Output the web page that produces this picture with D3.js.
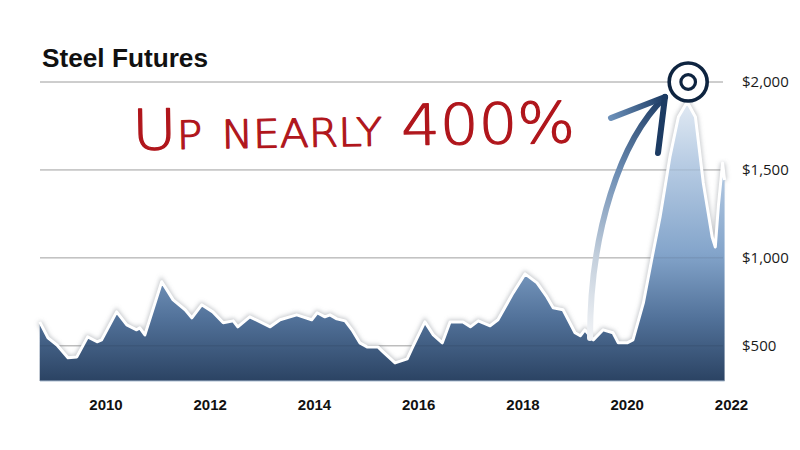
<!DOCTYPE html>
<html>
<head>
<meta charset="utf-8">
<script src="https://cdn.jsdelivr.net/npm/d3@7"></script>
<style>
  html, body { margin: 0; padding: 0; background: #fff; }
  svg { display: block; }
</style>
</head>
<body>
<svg id="chart" width="800" height="450"></svg>
<script>
// ---- data ----
const title = "Steel Futures";
const annotation = "Up nearly 400%";
const dates = [
  "2008-09-27","2008-11-24","2009-01-26","2009-04-13","2009-06-14","2009-08-29","2009-11-03","2009-12-05",
  "2010-03-20","2010-05-30","2010-08-07","2010-08-29","2010-10-04","2011-01-30","2011-04-20","2011-07-13",
  "2011-08-29","2011-11-06","2012-01-23","2012-04-05","2012-06-14","2012-07-16","2012-10-08","2012-12-20",
  "2013-02-28","2013-05-08","2013-09-02","2013-12-16","2014-01-23","2014-03-18","2014-04-23","2014-06-10",
  "2014-08-07","2014-09-24","2014-11-18","2015-01-08","2015-03-25","2015-04-30","2015-07-23","2015-10-16",
  "2015-11-24","2016-02-17","2016-04-16","2016-06-18","2016-08-11","2016-11-10","2017-01-01","2017-02-25",
  "2017-05-19","2017-07-13","2017-10-27","2018-01-19","2018-04-13","2018-06-21","2018-08-04","2018-10-12",
  "2019-01-04","2019-02-10","2019-03-14","2019-05-12","2019-07-20","2019-09-27","2019-11-03","2020-01-04",
  "2020-02-14","2020-04-27","2020-06-28","2020-08-22","2020-10-30","2020-12-28","2021-02-28","2021-04-27",
  "2021-06-21","2021-08-22","2021-09-13","2021-10-05","2021-11-03","2021-11-17"
];
const prices = [
  636, 545, 505, 432, 437, 551, 523, 534,
  693, 619, 591, 602, 562, 864, 761, 705,
  659, 733, 693, 631, 642, 608, 665, 636,
  608, 648, 676, 648, 688, 665, 676, 653,
  642, 591, 517, 494, 494, 466, 403, 426,
  494, 636, 562, 517, 636, 636, 608, 642,
  614, 648, 801, 909, 858, 778, 716, 705,
  574, 557, 591, 534, 591, 574, 517, 517,
  534, 744, 1006, 1233, 1574, 1801, 1886, 1801,
  1426, 1119, 1062, 1300, 1540, 1443
];
const yTickValues = [500, 1000, 1500, 2000];
const xTickYears = [2010, 2012, 2014, 2016, 2018, 2020, 2022];
const peakIndex = 70;

// ---- layout ----
const svg = d3.select("#chart");
const parse = d3.timeParse("%Y-%m-%d");
const data = dates.map((d, i) => ({ date: parse(d), value: prices[i] }));

const x = d3.scaleTime()
  .domain([new Date(2010, 0, 1), new Date(2022, 0, 1)])
  .range([105.5, 731]);
const y = d3.scaleLinear().domain([300, 2000]).range([381, 82]);

const plotLeft = 40, plotRight = 723;

const defs = svg.append("defs");
const areaGrad = defs.append("linearGradient")
  .attr("id", "areaGrad").attr("gradientUnits", "userSpaceOnUse")
  .attr("x1", 0).attr("x2", 0).attr("y1", 95).attr("y2", 381);
[[0, "#e6edf5"], [0.25, "#b6cbe3"], [0.55, "#84a5cb"], [0.78, "#52729a"], [1, "#2b4363"]]
  .forEach(([o, c]) => areaGrad.append("stop").attr("offset", o).attr("stop-color", c));

const arrowGrad = defs.append("linearGradient")
  .attr("id", "arrowGrad").attr("gradientUnits", "userSpaceOnUse")
  .attr("x1", 590).attr("y1", 338).attr("x2", 665).attr("y2", 97);
[[0, "#f1f3f6"], [0.3, "#c6d1dd"], [0.65, "#6f8fb5"], [1, "#1b3a63"]]
  .forEach(([o, c]) => arrowGrad.append("stop").attr("offset", o).attr("stop-color", c));

const headGrad = defs.append("linearGradient")
  .attr("id", "headGrad").attr("gradientUnits", "userSpaceOnUse")
  .attr("x1", 611).attr("y1", 118).attr("x2", 665).attr("y2", 97);
[[0, "#6b8fb8"], [1, "#1b3a63"]]
  .forEach(([o, c]) => headGrad.append("stop").attr("offset", o).attr("stop-color", c));

const shadow = defs.append("filter").attr("id", "shadow")
  .attr("x", "-10%").attr("y", "-10%").attr("width", "120%").attr("height", "130%");
shadow.append("feGaussianBlur").attr("stdDeviation", 2.2);

// ---- gridlines (behind) ----
svg.append("g").selectAll("line").data(yTickValues).join("line")
  .attr("x1", plotLeft).attr("x2", plotRight)
  .attr("y1", d => y(d)).attr("y2", d => y(d))
  .attr("stroke", "#b4b4b4").attr("stroke-width", 1);

// ---- area ----
const area = d3.area().x(d => x(d.date)).y0(y(300)).y1(d => y(d.value)).curve(d3.curveLinear);
const line = d3.line().x(d => x(d.date)).y(d => y(d.value)).curve(d3.curveLinear);

svg.append("path").datum(data).attr("d", line)
  .attr("fill", "none").attr("stroke", "#8a8f96").attr("stroke-width", 5)
  .attr("stroke-opacity", 0.5).attr("filter", "url(#shadow)");
svg.append("path").datum(data).attr("d", area).attr("fill", "url(#areaGrad)");

// faint gridlines over the area
svg.append("g").selectAll("line").data(yTickValues).join("line")
  .attr("x1", plotLeft).attr("x2", plotRight)
  .attr("y1", d => y(d)).attr("y2", d => y(d))
  .attr("stroke", "#000").attr("stroke-opacity", 0.1).attr("stroke-width", 1);

// bottom edge
svg.append("line").attr("x1", plotLeft).attr("x2", x(data[data.length - 1].date))
  .attr("y1", y(300)).attr("y2", y(300)).attr("stroke", "#a9bccf").attr("stroke-width", 1.2);

svg.append("path").datum(data).attr("d", line)
  .attr("fill", "none").attr("stroke", "#fff").attr("stroke-width", 3)
  .attr("stroke-linejoin", "round");

// ---- axes ----
const xAxis = d3.axisBottom(x)
  .tickValues(xTickYears.map(yr => new Date(yr, 0, 1)))
  .tickFormat(d3.timeFormat("%Y")).tickSize(0).tickPadding(0);
const gx = svg.append("g").attr("transform", "translate(0,405)").call(xAxis);
gx.select(".domain").remove();
gx.selectAll("text").attr("dy", "0.35em")
  .style("font-family", "'Liberation Sans', Arial, sans-serif")
  .style("font-weight", "bold").style("font-size", "15px").attr("fill", "#111");

const yAxis = d3.axisRight(y).tickValues(yTickValues)
  .tickFormat(d => "$" + d3.format(",")(d)).tickSize(0).tickPadding(0);
const gy = svg.append("g").attr("transform", "translate(742,0)").call(yAxis);
gy.select(".domain").remove();
gy.selectAll("text")
  .style("font-family", "'Open Sans', 'Noto Sans', sans-serif")
  .style("font-size", "15px").attr("fill", "#1a1a1a");

// ---- title ----
svg.append("text").attr("x", 42).attr("y", 67).text(title)
  .attr("textLength", 166).attr("lengthAdjust", "spacingAndGlyphs")
  .style("font-family", "'Liberation Sans', Arial, sans-serif")
  .style("font-weight", "bold").style("font-size", "25px").attr("fill", "#111");

// ---- arrow ----
svg.append("path")
  .attr("d", "M590,338 C590,232 620,140 665,97")
  .attr("fill", "none").attr("stroke", "url(#arrowGrad)").attr("stroke-width", 6)
  .attr("stroke-linecap", "round");
svg.append("path").attr("d", "M611,118 L665,97")
  .attr("fill", "none").attr("stroke", "url(#headGrad)").attr("stroke-width", 6)
  .attr("stroke-linecap", "round");
svg.append("path").attr("d", "M665,97 L658,153")
  .attr("fill", "none").attr("stroke", "#1c3b63").attr("stroke-width", 6)
  .attr("stroke-linecap", "round");

// ---- peak target ----
const peak = data[peakIndex];
const cx = x(peak.date) + 1, cy = y(2000);
svg.append("circle").attr("cx", cx).attr("cy", cy).attr("r", 19)
  .attr("fill", "#fff").attr("stroke", "#0e2440").attr("stroke-width", 3.6);
svg.append("circle").attr("cx", cx).attr("cy", cy).attr("r", 7.3)
  .attr("fill", "#fff").attr("stroke", "#0e2440").attr("stroke-width", 3.2);

// ---- annotation ----
svg.append("text")
  .attr("x", 132).attr("y", 146)
  .attr("textLength", 443).attr("lengthAdjust", "spacingAndGlyphs")
  .attr("transform", "rotate(-1 350 125)")
  .text(annotation)
  .style("font-family", "'DejaVu Sans ExtraLight', 'DejaVu Sans', sans-serif")
  .style("font-weight", 200)
  .style("font-variant", "small-caps")
  .style("font-size", "56px")
  .attr("fill", "#b0161c").attr("stroke", "#b0161c").attr("stroke-width", 1.2)
  .attr("stroke-linejoin", "round");
</script>
</body>
</html>
